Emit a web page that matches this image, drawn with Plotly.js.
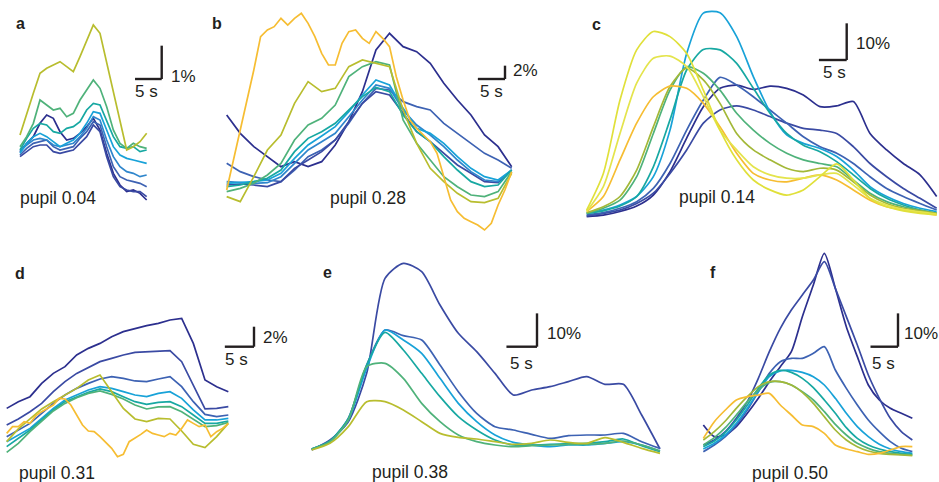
<!DOCTYPE html>
<html><head><meta charset="utf-8">
<script src="https://cdn.plot.ly/plotly-3.0.1.min.js"></script>
<style>html,body{margin:0;padding:0;background:#fff;}#chart{width:939px;height:482px;}</style>
</head><body><div id="chart"></div>
<script>
// ---------- time axes (s) ----------
const tA = [0,1.25,2.5,3.75,5,6.25,7.5,8.75,10,11.25,12.5,13.75,15,16.25,17.5,18.75,20,21.25,22.5,23.75];
const tB = [0,2.5,5,7.5,10,12.5,15,17.5,20,22.5,25,27.5,30,32.5,35,37.5,40,42.5,45,47.5,50,52.5];
const tB2 = [0,1.25,2.5,3.75,5,6.25,7.5,8.75,10,11.25,12.5,13.75,15,16.25,17.5,18.75,20,21.25,22.5,23.75,25,26.25,27.5,28.75,30,31.25,32.5,33.75,35,36.25,37.5,38.75,40,41.25,42.5,43.75,45,46.25,47.5,48.75,50,51.25,52.5];
const tC = [0,3,6,9,12,15,18,21,24,27,30,33,36,39,42,45,48,51,54,57,60,63];
const tD = [0,2,4,6,8,10,12,14,16,18,20,22,24,26,28,30,32,34,36,38];
const tD2 = [0,1,2,3,4,5,6,7,8,9,10,11,12,13,14,15,16,17,18,19,20,21,22,23,24,25,26,27,28,29,30,31,32,33,34,35,36,37,38];
const tE = [0,3,6,9,12,15,18,21,24,27,30,33,36,39,42,45,48,51,54,57];
const tF = [0,2,4,6,8,10,12,14,16,18,20,22,24,26,28,30,32,34,36,38];

// ---------- panel a (%) ----------
const a_navy  = [1.60,1.85,2.05,2.45,2.70,2.60,2.20,1.95,2.00,2.15,2.35,2.60,2.25,1.55,0.95,0.60,0.40,0.45,0.35,0.15];
const a_dblue = [1.45,1.60,1.75,1.80,1.80,1.60,1.55,1.60,1.65,1.85,2.05,2.40,2.20,1.45,0.85,0.55,0.45,0.40,0.40,0.25];
const a_blue  = [1.50,1.70,1.85,1.90,1.95,1.75,1.65,1.70,1.75,2.00,2.20,2.50,2.40,1.75,1.15,0.85,0.75,0.70,0.65,0.55];
const a_lblue = [1.60,1.80,1.95,2.00,1.95,1.80,1.75,1.80,1.85,2.05,2.30,2.65,2.55,1.95,1.45,1.15,1.00,0.95,0.85,0.90];
const a_cyan  = [1.55,1.85,2.05,2.15,2.05,1.90,1.75,1.85,1.95,2.15,2.45,2.80,2.75,2.25,1.75,1.50,1.40,1.35,1.30,1.25];
const a_teal  = [1.65,2.00,2.30,2.45,2.40,2.20,2.15,2.30,2.35,2.50,2.85,3.05,3.00,2.55,2.05,1.75,1.70,1.75,1.60,1.65];
const a_green = [1.75,2.05,2.45,3.15,3.00,2.85,2.90,2.65,2.75,3.15,3.45,3.75,3.50,2.95,2.25,1.85,1.70,1.85,1.75,1.70];
const a_yg    = [2.10,2.75,3.35,3.95,4.10,4.20,4.30,4.15,4.00,4.45,4.90,5.40,5.15,4.25,3.40,2.50,1.65,1.75,1.90,2.15];

// ---------- panel b (%) ----------
const b_navy  = [18.75,16,14,12.5,11,11.75,11,11.75,14.25,17.75,22.25,28.5,31,29,28.25,26.5,23.5,21,18.75,15.75,14,11];
const b_blue  = [11.5,10.25,9.5,9,8.75,10.5,12.5,13.5,15,17.5,20.5,22.75,22.5,20.75,20,19.5,17.5,16,14.5,13,12,10.75];
const b_dblue = [8.25,8.4,8.25,8,8.75,10.75,12,13.25,15,17.75,20.5,22.25,21.75,19,16.25,14.75,13,11.25,10,8.75,8.6,10.5];
const b_lblue = [8.75,8.6,8.5,8.6,9.5,11.5,13.5,14.75,16,18.5,21,23.25,22.75,19.5,17.25,15.75,14,12,10.25,9,8.75,10.5];
const b_cyan  = [8.5,8.6,8.75,9,10,12.25,14.25,15.6,17,19.25,21.75,24,23.25,19.75,16.75,16,14.5,12.5,10.75,9.5,9,10.5];
const b_teal  = [8,8.25,8.75,9.25,10.5,13.25,15.25,16.25,17.5,19.5,21.5,22.9,22.25,18.75,16.25,14.75,12.5,10.5,8.75,8,8.25,10.5];
const b_green = [7.25,7.75,8.5,9.75,11.5,15,17.25,18.25,20.25,24.5,26,26.75,26.25,18,14.5,12,9.5,8,6.75,6.5,7.25,10.25];
const b_yg    = [6.5,5.75,9.5,13.5,15.75,20.5,23.75,22.25,22.75,26,27,26.5,26,19.5,14.5,10.75,8.75,7,5.75,5.6,6.25,10];
const b_yel   = [7.5,12,16.5,21.5,25.5,30.5,31.5,32,33.25,32.25,33.25,34,32.5,30.5,28,26.25,26.25,29.5,31.25,31.5,30.25,29.5,31.25,30.25,29,24.5,21,18,16.75,15.75,14.75,13,9.5,6,4.25,3.25,2.75,2.25,1.5,2.5,5.25,7.5,10.25];

// ---------- panel c (%) ----------
const c_navy   = [0,0.4,1.4,2.9,5.9,12.3,21.4,30,35,35.9,34.7,35.6,35,33.2,30,30.2,31.4,22.7,18.2,14.5,11.4,5.5];
const c_blueB  = [0.2,0.9,1.8,3.6,6.4,11.8,18.2,25.5,29.1,30.2,29.1,27.3,25.5,24.1,23.6,22.7,19.1,14.5,10.9,7.7,5,2.3];
const c_blueA  = [0.5,1.1,2.3,4.1,7.7,14.5,23.6,31.8,38,35.9,32.7,29.1,25.5,21.8,19.1,17.3,14.5,10.9,7.7,5.5,3.6,1.8];
const c_lblue  = [0.9,1.8,3.2,5.5,10.9,23.6,44.5,55.5,55.6,49.1,38.2,28.6,22.3,20,18.6,16.4,12.7,8.2,5.5,3.6,2.3,1.4];
const c_teal   = [0.9,1.6,2.9,5.5,13.6,26.4,40,45.6,45.5,41.8,35,28.2,22.7,19.5,17.7,15,11.4,7.7,5,3.2,1.8,0.9];
const c_green  = [0.9,2.3,4.5,10.9,22.7,34.5,40.9,39.1,34.5,28.2,23.6,20,17.3,15.5,14.5,13.6,10,6.4,4.1,2.7,1.8,0.9];
const c_olive  = [1.1,2.7,5.5,12.7,24.5,35.5,40.5,37.3,30.9,22.7,18.2,15.5,13.2,12.3,13.2,12.7,9.5,5.9,3.6,2.3,1.6,0.9];
const c_orange = [1.4,5.5,15.5,25.5,32.7,35.6,35,30.9,24.5,17.3,11.8,10,9.5,10.5,11.4,10,7.3,4.5,2.7,1.8,1.1,0.5];
const c_lyel   = [1.4,8.2,22.7,36.4,43.2,43.8,40.9,32.7,23.6,18.2,13.6,11.4,10.5,10.5,11.4,11.8,8.6,5,3.2,2,1.3,0.7];
const c_yel    = [1.8,11.8,31.8,45.5,50.5,49.1,44.5,34.5,23.6,15.5,10,7.3,5.9,7.3,10.9,14.4,10,5,2.7,1.6,0.9,0.5];

// ---------- panel d (%) ----------
const d_navy   = [5.33,6,6.5,7.83,8.83,9.5,10.67,11.33,11.83,12.5,13,13.33,13.6,13.83,14.17,14.33,11.83,8.17,7.5,7];
const d_blue   = [3.67,4.27,5,5.83,7,8,8.83,9.4,10,10.33,10.67,10.93,11,11,11.1,10,7.67,5.27,5.33,5.5];
const d_blue2  = [2.5,3.17,3.83,4.83,5.83,6.67,7.33,7.83,8.27,8.5,8.33,8.07,8,8.27,8.5,7.5,6,4.73,4.5,4.67];
const d_cyan   = [2,2.67,3.33,4.33,5.33,6.17,6.67,7.17,7.5,7.33,7,6.67,6.5,6.83,7,6.33,5.17,4.17,4.17,4.33];
const d_teal   = [1.5,2.33,3.17,4.17,5.17,6,6.5,6.93,7.27,7,6.5,6,5.73,5.93,6,5.5,4.67,3.83,3.83,4.07];
const d_green  = [0.93,1.83,3,4,5.07,5.83,6.4,6.83,7.07,6.73,6.27,5.67,5.27,5.47,5.5,5,4.27,3.5,3.6,3.93];
const d_yg     = [2,3.27,4.27,5.27,6,6.67,7.33,8.17,8.67,7,5.33,4.27,4,4.33,4.27,3.07,1.73,1.4,2.5,3.83];
const d_orange = [2.83,3.5,3.5,4,3.83,4.6,5,5.33,5.67,6.33,6.27,5.67,4.73,3.67,3.07,3,2.5,1.93,1.33,0.5,0.73,2,2.33,2.73,3.17,2.83,2.67,2.5,2.83,2.67,3.33,4.17,3.83,3.5,3.67,2.5,3,3.33,3.83];

// ---------- panel e (%) ----------
const e_dblue = [0.5,3.5,9,23.5,52,56.5,54,44,35.5,30,23.5,17,18.5,19.5,21,22.5,20.2,20.2,11,0.8];
const e_blue  = [0.8,3.2,10,26,36.5,34.8,33.5,26,18,11.5,7.5,6.5,5.2,4,4.8,5,5,5.5,3,1];
const e_lblue = [0.8,3,9.5,25,36.5,33.5,29.5,22,14.5,9,5,2.8,2,1.5,2,2,2.5,3,2,0.2];
const e_teal  = [0.8,3.2,10,26,35.8,30.5,23.5,16.5,10.5,6.5,3.5,2,2,2.2,2.4,2.5,3,3.8,1.8,0];
const e_green = [0.8,3,9.5,25.5,26.5,22,14.5,9,5,3,2,1.5,1.8,2,2.2,2.2,2.5,3.2,2,0.2];
const e_yg    = [0.5,2.5,7.5,15,15,12.5,9,5.5,4.3,3.8,3,2.2,2.5,3.5,2.8,2.5,4.2,2.8,1,-0.5];

// ---------- panel f (%) ----------
const f_navy   = [10,6.5,7,9.5,13.5,18,23,27.5,32,42.5,52,61.5,51,39.5,30.5,22,17.5,15,13.5,12];
const f_blue   = [4,5.5,8,12,17,24,32,39,44.5,49,53.5,59,51,42.5,34,25,18,12,8,5.5];
const f_blue2  = [2,4,6.5,10,14.5,20,25.5,29,30,30,31.5,33.5,26.5,21,16,11.5,8,5,3,2];
const f_cyan   = [2.8,4.5,7,10.5,15,20,24.5,26.2,26.4,25.8,24.5,22,18,13.5,9.5,6.5,4.2,2.8,2,1.5];
const f_teal   = [3.5,5.2,7.8,11.5,16,21,25,26.4,25.8,24,21.2,17.5,13.5,9.2,6,4,2.8,2,1.5,1.2];
const f_green  = [4,6.2,9.2,13,17,20.5,22.8,23,22,20,17.5,14,10.2,7,4.5,3,2,1.5,1.2,1];
const f_yg     = [5.5,8,11.2,15,18.5,21.5,23,23,22,19.8,16.5,12.5,8.5,5.5,3.5,2.2,1.5,1.2,1,0.8];
const f_orange = [6,11,14.5,17.5,18.5,19,19.5,16,13,10,9.5,7.5,4,2.8,2,1.2,1.5,2.5,3.5,3.5];

// ---------- labels ----------
const panelLetters = ['a','b','c','d','e','f'];
const pupilLabels = ['pupil 0.04','pupil 0.28','pupil 0.14','pupil 0.31','pupil 0.38','pupil 0.50'];
const barUnits = [1,2,10,2,10,10];
const barUnitLabels = ['1%','2%','10%','2%','10%','10%'];
const barTimeLabel = '5 s';

// ---------- colours ----------
const C = {
  navy:'#2c2f8e', dblue:'#3a4aa3', blue:'#3d62b3', lblue:'#2f86cc', cyan:'#18a2d8',
  teal:'#17a8a2', green:'#4fb27a', olive:'#a3b838', yg:'#b8bd2e', orange:'#f6bd32',
  yel:'#e0e03a', lyel:'#e4e44c'
};

// ---------- layout geometry (pixels) ----------
const W = 939, H = 482;
const panels = [
  {ts:[tA,tA,tA,tA,tA,tA,tA,tA], ys:[a_navy,a_dblue,a_blue,a_lblue,a_cyan,a_teal,a_green,a_yg],
   cols:[C.navy,C.dblue,C.blue,C.lblue,C.cyan,C.teal,C.green,C.yg],
   box:[0,0,205,240], tx0:20, sx:5.3333, py0:205, sy:33.333, smooth:false,
   bar:[161.7,79], letter:[20,23], pupil:[58,198], unitLab:[169,76], timeLab:[146,91]},
  {ts:[tB,tB,tB,tB,tB,tB,tB,tB,tB2], ys:[b_navy,b_blue,b_dblue,b_lblue,b_cyan,b_teal,b_green,b_yg,b_yel],
   cols:[C.navy,C.blue,C.dblue,C.lblue,C.cyan,C.teal,C.green,C.yg,C.orange],
   box:[205,0,560,240], tx0:226.67, sx:5.4286, py0:240, sy:6.6667, smooth:false,
   bar:[505,79], letter:[217,23], pupil:[368,198], unitLab:[511,70], timeLab:[491,91]},
  {ts:[tC,tC,tC,tC,tC,tC,tC,tC,tC,tC], ys:[c_navy,c_blueB,c_blueA,c_lblue,c_teal,c_green,c_olive,c_orange,c_lyel,c_yel],
   cols:[C.navy,C.dblue,C.blue,C.cyan,C.teal,C.green,C.olive,C.orange,C.lyel,C.yel],
   box:[560,0,939,240], tx0:586.67, sx:5.5556, py0:216.67, sy:3.6667, smooth:true,
   bar:[846.7,60], letter:[596,24], pupil:[717,197], unitLab:[854,43], timeLab:[834,72]},
  {ts:[tD,tD,tD,tD,tD,tD,tD,tD2], ys:[d_navy,d_blue,d_blue2,d_cyan,d_teal,d_green,d_yg,d_orange],
   cols:[C.navy,C.dblue,C.blue,C.cyan,C.teal,C.green,C.yg,C.orange],
   box:[0,240,300,482], tx0:6.667, sx:5.8333, py0:461.67, sy:10, smooth:false,
   bar:[254,346.7], letter:[20,273], pupil:[57,473], unitLab:[261,337], timeLab:[236,359]},
  {ts:[tE,tE,tE,tE,tE,tE], ys:[e_dblue,e_blue,e_lblue,e_teal,e_green,e_yg],
   cols:[C.dblue,C.blue,C.cyan,C.teal,C.green,C.yg],
   box:[300,240,690,482], tx0:311.67, sx:6.1111, py0:451.67, sy:3.3333, smooth:true,
   bar:[537,346.7], letter:[327,272], pupil:[410,472], unitLab:[545,333], timeLab:[521,363]},
  {ts:[tF,tF,tF,tF,tF,tF,tF,tF], ys:[f_navy,f_blue,f_blue2,f_cyan,f_teal,f_green,f_yg,f_orange],
   cols:[C.navy,C.dblue,C.blue,C.cyan,C.teal,C.green,C.olive,C.orange],
   box:[690,240,939,482], tx0:703.33, sx:5.5, py0:458.33, sy:3.3333, smooth:true,
   bar:[898,346.7], letter:[713,272], pupil:[790,473], unitLab:[902,333], timeLab:[883,363]}
];

const data = [];
const layout = {
  width: W, height: H, margin:{l:0,r:0,t:0,b:0},
  paper_bgcolor:'#fff', plot_bgcolor:'rgba(0,0,0,0)', showlegend:false,
  shapes:[], annotations:[]
};
const font = 'Liberation Sans, Arial, sans-serif';
const ink = '#231f20';
const px2p = x => x/W, py2p = y => 1 - y/H;

panels.forEach((p, i) => {
  const n = i + 1;
  const xa = 'xaxis' + (n === 1 ? '' : n), ya = 'yaxis' + (n === 1 ? '' : n);
  const xr = 'x' + (n === 1 ? '' : n), yr = 'y' + (n === 1 ? '' : n);
  const [x0, y0, x1, y1] = p.box;
  layout[xa] = {domain:[x0/W, x1/W], range:[(x0 - p.tx0)/p.sx, (x1 - p.tx0)/p.sx],
                visible:false, fixedrange:true, anchor:yr};
  layout[ya] = {domain:[1 - y1/H, 1 - y0/H], range:[(p.py0 - y1)/p.sy, (p.py0 - y0)/p.sy],
                visible:false, fixedrange:true, anchor:xr};
  p.ys.forEach((y, k) => {
    data.push({type:'scatter', mode:'lines', x:p.ts[k], y:y, xaxis:xr, yaxis:yr,
      line:{color:p.cols[k], width:1.7, shape:p.smooth ? 'spline' : 'linear', smoothing:0.7},
      hoverinfo:'skip'});
  });
  // scale bar
  const tc = (p.bar[0] - p.tx0)/p.sx, vc = (p.py0 - p.bar[1])/p.sy;
  layout.shapes.push({type:'line', xref:xr, yref:yr, x0:tc - 5, x1:tc, y0:vc, y1:vc, line:{color:ink, width:2.4}});
  layout.shapes.push({type:'line', xref:xr, yref:yr, x0:tc, x1:tc, y0:vc, y1:vc + barUnits[i], line:{color:ink, width:2.4}});
  // texts
  layout.annotations.push({xref:'paper', yref:'paper', x:px2p(p.letter[0]), y:py2p(p.letter[1]),
    text:'<b>' + panelLetters[i] + '</b>', showarrow:false, xanchor:'center', yanchor:'middle',
    font:{family:font, size:16, color:ink}});
  layout.annotations.push({xref:'paper', yref:'paper', x:px2p(p.pupil[0]), y:py2p(p.pupil[1]),
    text:pupilLabels[i], showarrow:false, xanchor:'center', yanchor:'middle',
    font:{family:font, size:17.5, color:ink}});
  layout.annotations.push({xref:'paper', yref:'paper', x:px2p(p.unitLab[0]), y:py2p(p.unitLab[1]),
    text:barUnitLabels[i], showarrow:false, xanchor:'left', yanchor:'middle',
    font:{family:font, size:17, color:ink}});
  layout.annotations.push({xref:'paper', yref:'paper', x:px2p(p.timeLab[0]), y:py2p(p.timeLab[1]),
    text:barTimeLabel, showarrow:false, xanchor:'center', yanchor:'middle',
    font:{family:font, size:17, color:ink}});
});

Plotly.newPlot('chart', data, layout, {staticPlot:true, displayModeBar:false});
</script>
</body></html>
